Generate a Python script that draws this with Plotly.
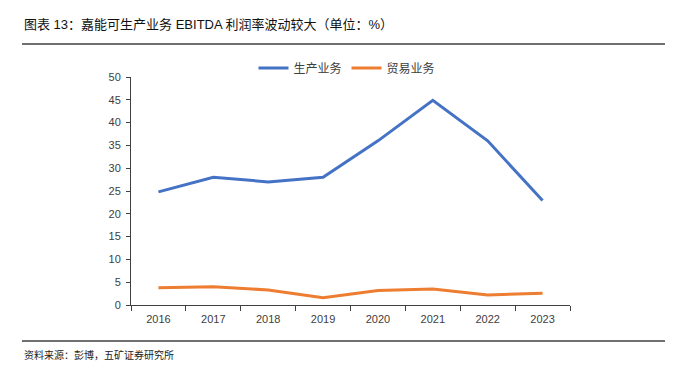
import plotly.graph_objects as go

years = ["2016", "2017", "2018", "2019", "2020", "2021", "2022", "2023"]
production = [24.8, 28.0, 27.0, 28.0, 36.0, 44.9, 36.0, 22.9]
trade = [3.8, 4.0, 3.3, 1.6, 3.2, 3.5, 2.2, 2.6]
series_names = ["生产业务", "贸易业务"]
title_text = "图表 13：嘉能可生产业务 EBITDA 利润率波动较大（单位：%）"
source_text = "资料来源：彭博，五矿证券研究所"

OFF = 8  # page body margin
W, H = 674 - 2 * OFF, 375 - 2 * OFF
L, R, T, B = 131 - OFF, 570 - OFF, 77 - OFF, 305 - OFF
pw, ph = R - L, B - T

def px(x):
    return (x - OFF - L) / pw

def py(y):
    return (B - (y - OFF)) / ph

FONT = "Liberation Sans, Arial, Noto Sans CJK SC, sans-serif"

fig = go.Figure()
fig.add_trace(go.Scatter(x=years, y=production, name=series_names[0], mode="lines",
                         line=dict(color="#4472C4", width=3)))
fig.add_trace(go.Scatter(x=years, y=trade, name=series_names[1], mode="lines",
                         line=dict(color="#ED7D31", width=3)))

fig.update_layout(
    width=W, height=H,
    margin=dict(l=L, r=W - R, t=T, b=H - B, pad=0, autoexpand=False),
    paper_bgcolor="white", plot_bgcolor="white",
    font=dict(family=FONT, size=11, color="#404040"),
    showlegend=True,
    legend=dict(orientation="h", xref="container", x=(347 - OFF) / W, xanchor="center",
                yref="container", y=1 - (68 - OFF) / H, yanchor="middle",
                font=dict(size=12, color="#404040"), itemwidth=30, tracegroupgap=0,
                bgcolor="rgba(0,0,0,0)"),
    xaxis=dict(type="category", range=[-0.5, 7.5], tickson="boundaries", ticks="outside", ticklen=5,
               tickcolor="#404040", showline=True, linecolor="#404040", linewidth=1,
               showgrid=False, tickfont=dict(size=11, color="#404040"), fixedrange=True,
               automargin=False, ticklabelstandoff=4),
    yaxis=dict(range=[0, 50], dtick=5, ticks="outside", ticklen=4, tickcolor="#404040",
               showline=True, linecolor="#404040", linewidth=1, showgrid=False,
               zeroline=False, tickfont=dict(size=11, color="#404040"), fixedrange=True,
               automargin=False, ticklabelstandoff=3),
    shapes=[
        dict(type="line", xref="paper", yref="paper", x0=px(22), x1=px(665), y0=py(44), y1=py(44),
             line=dict(color="#404040", width=1.5)),
        dict(type="line", xref="paper", yref="paper", x0=px(22), x1=px(665), y0=py(341), y1=py(341),
             line=dict(color="#404040", width=1.5)),
    ],
    annotations=[
        dict(text=title_text, xref="paper", yref="paper", x=px(22), y=py(25),
             xanchor="left", yanchor="middle", showarrow=False,
             font=dict(size=13, color="#111111", family=FONT)),
        dict(text=source_text, xref="paper", yref="paper", x=px(22), y=py(355),
             xanchor="left", yanchor="middle", showarrow=False,
             font=dict(size=10, color="#222222", family=FONT)),
    ],
)

fig.write_html("out.html")
